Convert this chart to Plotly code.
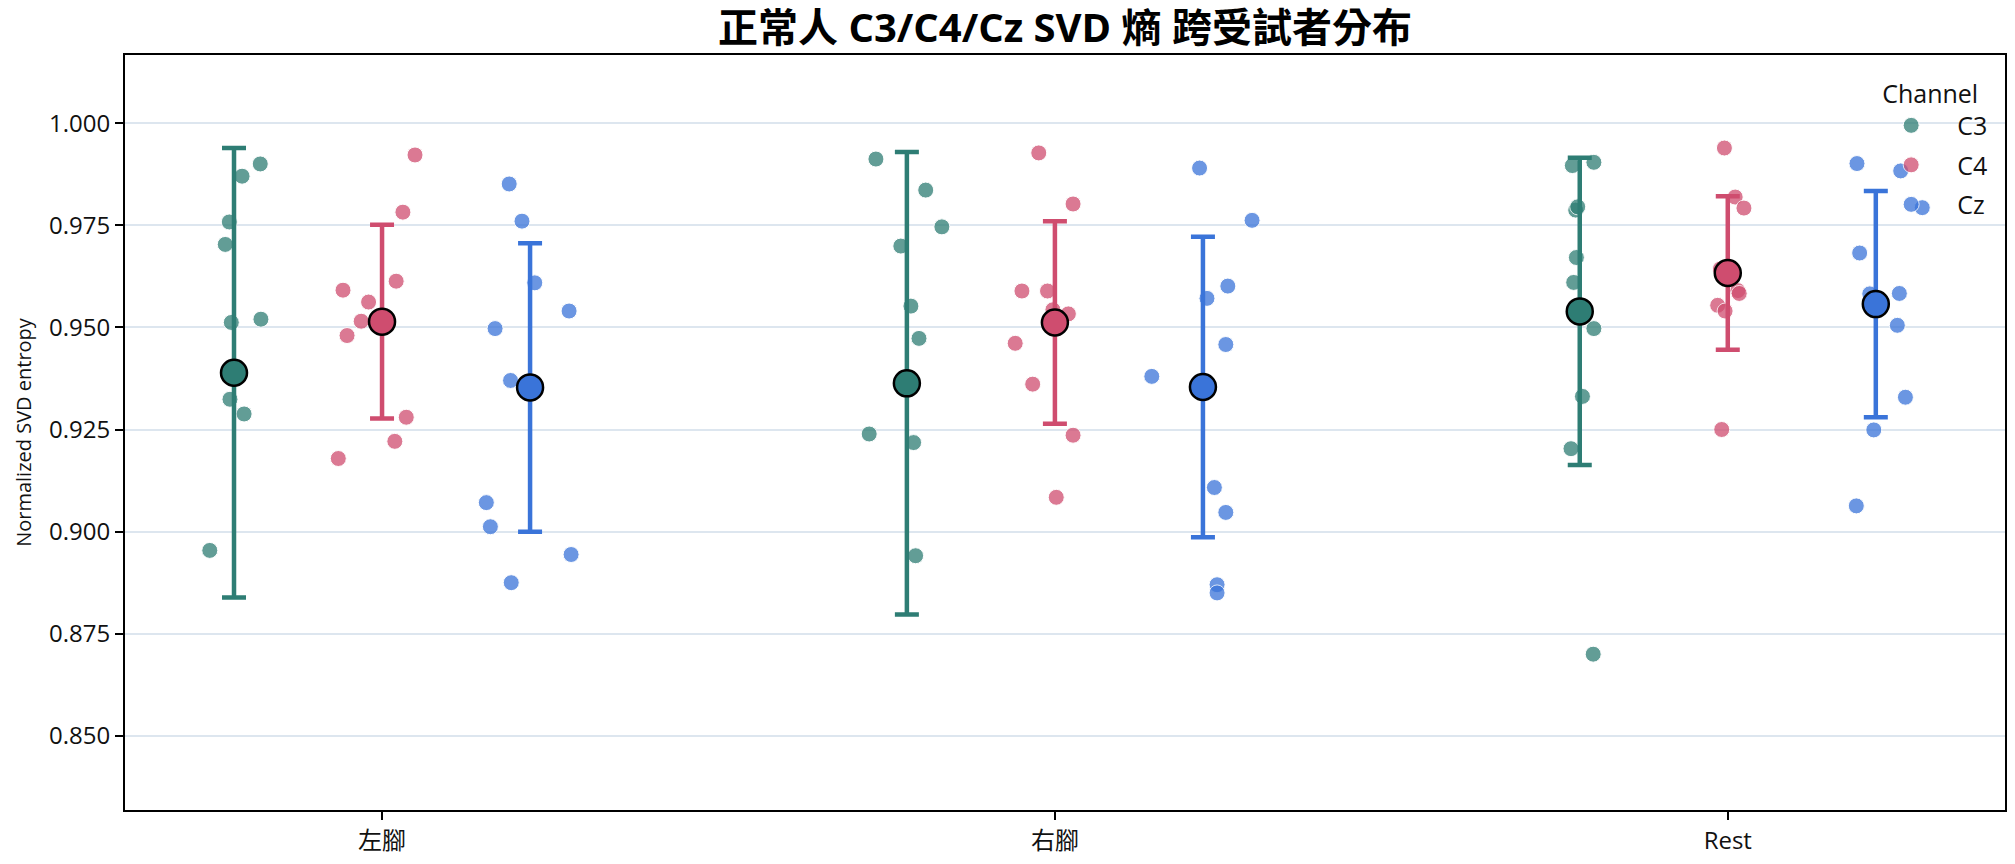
import plotly.graph_objects as go

categories = ["左腳", "右腳", "Rest"]
channels = ["C3", "C4", "Cz"]

# subject values per channel, per condition
c3_left = [0.9900, 0.9870, 0.9758, 0.9703, 0.9512, 0.9520, 0.9324, 0.9288, 0.8954]
c3_right = [0.9912, 0.9836, 0.9746, 0.9699, 0.9552, 0.9473, 0.9239, 0.9218, 0.8941]
c3_rest = [0.9896, 0.9904, 0.9787, 0.9795, 0.9671, 0.9610, 0.9497, 0.9331, 0.9203, 0.8700]

c4_left = [0.9922, 0.9782, 0.9613, 0.9591, 0.9562, 0.9515, 0.9480, 0.9280, 0.9221, 0.9179]
c4_right = [0.9927, 0.9802, 0.9589, 0.9589, 0.9543, 0.9533, 0.9461, 0.9361, 0.9236, 0.9084]
c4_rest = [0.9939, 0.9819, 0.9792, 0.9643, 0.9590, 0.9583, 0.9554, 0.9540, 0.9250, 0.9623]

cz_left = [0.9851, 0.9760, 0.9609, 0.9540, 0.9497, 0.9370, 0.9071, 0.9012, 0.8944, 0.8875]
cz_right = [0.9890, 0.9762, 0.9601, 0.9571, 0.9458, 0.9380, 0.9108, 0.9047, 0.8870, 0.8850]
cz_rest = [0.9901, 0.9883, 0.9793, 0.9682, 0.9582, 0.9583, 0.9505, 0.9329, 0.9249, 0.9063]

# horizontal jitter of each subject point
c3_left_jit = [0.039, 0.012, -0.007, -0.013, -0.004, 0.040, -0.006, 0.015, -0.036]
c3_right_jit = [-0.046, 0.028, 0.052, -0.009, 0.006, 0.018, -0.056, 0.010, 0.013]
c3_rest_jit = [-0.011, 0.021, -0.006, -0.003, -0.005, -0.009, 0.021, 0.004, -0.013, 0.020]

c4_left_jit = [0.049, 0.031, 0.021, -0.058, -0.020, -0.031, -0.052, 0.036, 0.019, -0.065]
c4_right_jit = [-0.024, 0.027, -0.049, -0.011, -0.003, 0.020, -0.059, -0.033, 0.027, 0.002]
c4_rest_jit = [-0.005, 0.011, 0.024, -0.011, 0.015, 0.017, -0.015, -0.004, -0.009, 0.000]

cz_left_jit = [-0.031, -0.012, 0.007, 0.058, -0.052, -0.029, -0.065, -0.059, 0.061, -0.028]
cz_right_jit = [-0.005, 0.073, 0.037, 0.006, 0.034, -0.076, 0.017, 0.034, 0.021, 0.021]
cz_rest_jit = [-0.028, 0.037, 0.069, -0.024, -0.009, 0.035, 0.032, 0.044, -0.003, -0.029]

# group means and standard deviations
c3_mean = [0.9389, 0.9363, 0.9539]
c3_sd = [0.0550, 0.0566, 0.0376]
c4_mean = [0.9514, 0.9512, 0.9633]
c4_sd = [0.0237, 0.0248, 0.0188]
cz_mean = [0.9353, 0.9354, 0.9557]
cz_sd = [0.0353, 0.0368, 0.0277]

yticks = [0.850, 0.875, 0.900, 0.925, 0.950, 0.975, 1.000]

series = {
    "C3": dict(vals=[c3_left, c3_right, c3_rest], jit=[c3_left_jit, c3_right_jit, c3_rest_jit],
               mean=c3_mean, sd=c3_sd, color="#2e7d74", offset=-0.22),
    "C4": dict(vals=[c4_left, c4_right, c4_rest], jit=[c4_left_jit, c4_right_jit, c4_rest_jit],
               mean=c4_mean, sd=c4_sd, color="#cf4d6f", offset=0.0),
    "Cz": dict(vals=[cz_left, cz_right, cz_rest], jit=[cz_left_jit, cz_right_jit, cz_rest_jit],
               mean=cz_mean, sd=cz_sd, color="#3a74d9", offset=0.22),
}

FONT = "Open Sans, Noto Sans CJK TC, sans-serif"

fig = go.Figure()

for ch in channels:
    s = series[ch]
    xs, ys = [], []
    for ci in range(len(categories)):
        for v, j in zip(s["vals"][ci], s["jit"][ci]):
            xs.append(ci + s["offset"] + j)
            ys.append(v)
    fig.add_trace(go.Scatter(
        x=xs, y=ys, mode="markers", name=ch, legendgroup=ch,
        marker=dict(size=16, color=s["color"], opacity=0.75,
                    line=dict(width=1, color="white")),
        hoverinfo="y",
    ))

for ch in channels:
    s = series[ch]
    fig.add_trace(go.Scatter(
        x=[ci + s["offset"] for ci in range(len(categories))],
        y=s["mean"], mode="markers", name=ch + " mean", legendgroup=ch,
        showlegend=False,
        marker=dict(size=26, color=s["color"], line=dict(width=2.5, color="black")),
        error_y=dict(type="data", array=s["sd"], visible=True, color=s["color"],
                     thickness=4.5, width=12),
    ))

fig.update_layout(
    width=2015, height=864, autosize=False,
    margin=dict(l=125, r=8, t=55, b=52),
    paper_bgcolor="white", plot_bgcolor="white",
    font=dict(family=FONT, size=22, color="#111"),
    title=dict(text="<b>正常人 C3/C4/Cz SVD 熵 跨受試者分布</b>", x=0.5, xref="paper",
               xanchor="center", y=0.968, yref="container", yanchor="middle",
               font=dict(size=40, family=FONT, color="black")),
    showlegend=True,
    legend=dict(title=dict(text="Channel", font=dict(size=25)),
                x=0.9336, y=0.980, xanchor="left", yanchor="top",
                bgcolor="rgba(0,0,0,0)", font=dict(size=25), itemwidth=82,
                indentation=-15, tracegroupgap=4),
)

fig.update_xaxes(
    range=[-0.382, 2.412], tickmode="array", tickvals=list(range(len(categories))),
    ticktext=categories, showgrid=False, zeroline=False,
    showline=True, linecolor="black", linewidth=2, mirror=True,
    ticks="outside", ticklen=8, tickwidth=2, tickcolor="black",
    tickfont=dict(size=24),
)
fig.update_yaxes(
    range=[0.83186, 1.01667], tickmode="array", tickvals=yticks,
    ticktext=[f"{t:.3f}" for t in yticks], showgrid=True, gridcolor="#dde6ef", gridwidth=1.5,
    zeroline=False, showline=True, linecolor="black", linewidth=2, mirror=True,
    ticks="outside", ticklen=8, tickwidth=2, tickcolor="black",
    tickfont=dict(size=24),
    title=dict(text="Normalized SVD entropy", font=dict(size=20), standoff=12),
)

fig.write_html("out.html")
